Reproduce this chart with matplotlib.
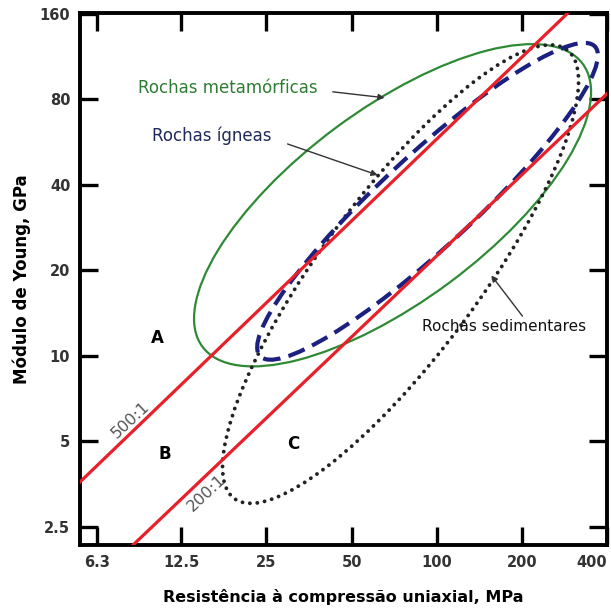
import numpy as np
import matplotlib.pyplot as plt
from matplotlib.patches import Ellipse
from matplotlib.ticker import FixedLocator, NullLocator

# eixos: resistência (MPa) e módulo (GPa)
x_ticks = [6.3, 12.5, 25, 50, 100, 200, 400]
x_labels = ['6.3', '12.5', '25', '50', '100', '200', '400']
y_ticks = [2.5, 5, 10, 20, 40, 80, 160]
y_labels = ['2.5', '5', '10', '20', '40', '80', '160']
x_range = [5.48, 400]
y_range = [2.16, 161]

line_500_x = [5.48, 289]
line_500_y = [3.6, 160]
line_200_x = [8.44, 400]
line_200_y = [2.16, 83.7]

# envoltórias: centro (MPa, GPa), eixos em décadas, inclinação em graus
meta_center = (69.8, 33.9)
meta_size = (1.673, 0.677)
meta_angle = 36.5
ign_center = (92.8, 35.0)
ign_size = (1.609, 0.325)
ign_angle = 42.6
sed_center = (74.5, 19.4)
sed_size = (1.969, 0.5575)
sed_angle = 53.3

fig = plt.figure(figsize=(6.11, 6.08), dpi=100)
ax = fig.add_axes([80 / 611, 63 / 608, 527 / 611, 532 / 608])
ax.set_xscale('log')
ax.set_yscale('log')
ax.set_xlim(x_range)
ax.set_ylim(y_range)

# transformação em coordenadas log10 (mesma escala dos eixos)
log_tr = ax.transLimits + ax.transAxes


def envelope(center, size, angle, **kw):
    e = Ellipse((np.log10(center[0]), np.log10(center[1])), size[0], size[1],
                angle=angle, transform=log_tr, fill=False, **kw)
    ax.add_patch(e)


envelope(meta_center, meta_size, meta_angle, edgecolor='#2f8a35', lw=1.6, zorder=2)
envelope(sed_center, sed_size, sed_angle, edgecolor='#222222', lw=2.8,
         linestyle=(0, (0.01, 1.9)), capstyle='round', zorder=2)
envelope(ign_center, ign_size, ign_angle, edgecolor='#1c2080', lw=3,
         linestyle=(0, (4.2, 2.0)), zorder=3)

ax.plot(line_500_x, line_500_y, color='#e8202a', lw=2.3, zorder=4)
ax.plot(line_200_x, line_200_y, color='#e8202a', lw=2.3, zorder=4)

ax.text(8.24, 5.97, '500:1', rotation=43, color='#555555', fontsize=11.5,
        ha='center', va='center', zorder=5)
ax.text(15.4, 3.3, '200:1', rotation=43, color='#555555', fontsize=11.5,
        ha='center', va='center', zorder=5)

ax.text(10.26, 11.6, 'A', fontsize=12, fontweight='bold', ha='center', va='center')
ax.text(10.95, 4.53, 'B', fontsize=12, fontweight='bold', ha='center', va='center')
ax.text(31.0, 4.91, 'C', fontsize=12, fontweight='bold', ha='center', va='center')

arrow = dict(arrowstyle='-|>', color='#333333', lw=1, mutation_scale=9,
             shrinkA=0, shrinkB=0)
ax.text(38, 87.8, 'Rochas metamórficas', color='#2e7d32', fontsize=12,
        ha='right', va='center')
ax.annotate('', xy=(65.4, 81.0), xytext=(42.9, 85), arrowprops=arrow, zorder=6)
ax.text(26.1, 59.5, 'Rochas ígneas', color='#1f2a5a', fontsize=12,
        ha='right', va='center')
ax.annotate('', xy=(61.8, 43.3), xytext=(29.7, 55.7), arrowprops=arrow, zorder=6)
ax.text(173, 12.7, 'Rochas sedimentares', color='#111111', fontsize=11,
        ha='center', va='center')
ax.annotate('', xy=(156, 19.2), xytext=(201, 13.8), arrowprops=arrow, zorder=6)

ax.xaxis.set_major_locator(FixedLocator(x_ticks))
ax.yaxis.set_major_locator(FixedLocator(y_ticks))
ax.xaxis.set_minor_locator(NullLocator())
ax.yaxis.set_minor_locator(NullLocator())
ax.set_xticklabels(x_labels, fontweight='bold')
ax.set_yticklabels(y_labels, fontweight='bold')
ax.get_xticklabels()[-1].set_ha('right')
ax.tick_params(which='major', direction='in', length=13, width=2.4,
               top=True, right=True, labelsize=10.5, pad=7, labelcolor='#333333')
for s in ax.spines.values():
    s.set_linewidth(2.8)

ax.set_xlabel('Resistência à compressão uniaxial, MPa', fontsize=11.5,
              fontweight='bold', labelpad=14)
ax.set_ylabel('Módulo de Young, GPa', fontsize=12, fontweight='bold', labelpad=6)

fig.savefig('out.png', dpi=100)
